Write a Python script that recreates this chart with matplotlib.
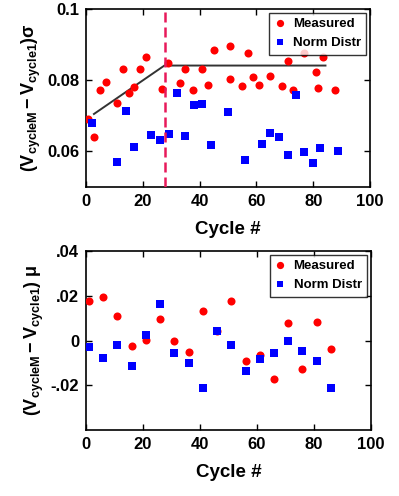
import matplotlib
matplotlib.use("Agg")
import matplotlib.pyplot as plt

plt.rcParams["font.family"] = ["Liberation Sans", "DejaVu Sans"]
plt.rcParams["font.weight"] = "bold"
plt.rcParams["mathtext.fontset"] = "custom"
plt.rcParams["mathtext.rm"] = "Liberation Sans:bold"
plt.rcParams["mathtext.it"] = "Liberation Sans:bold"
plt.rcParams["mathtext.bf"] = "Liberation Sans:bold"

# top panel: sigma
sig_meas_x = [0.6, 2.9, 4.9, 7.0, 10.8, 12.9, 15.0, 17.0, 19.0, 21.0, 26.9, 29.0, 33.0, 35.0,
              37.7, 40.8, 43.1, 45.0, 50.7, 50.8, 54.8, 56.9, 58.9, 60.9, 64.9, 68.9, 71.2,
              73.0, 76.8, 80.9, 81.6, 83.5, 87.7]
sig_meas_y = [0.0691, 0.0640, 0.0773, 0.0795, 0.0735, 0.0832, 0.0764, 0.0780, 0.0830, 0.0865,
              0.0776, 0.0849, 0.0792, 0.0832, 0.0772, 0.0830, 0.0785, 0.0885, 0.0802, 0.0897,
              0.0783, 0.0876, 0.0809, 0.0785, 0.0813, 0.0783, 0.0854, 0.0773, 0.0875, 0.0824,
              0.0779, 0.0866, 0.0773]
sig_norm_x = [2.0, 10.8, 14.0, 17.0, 22.9, 26.1, 29.1, 31.9, 35.0, 38.1, 40.8, 43.9, 50.0,
              56.0, 62.0, 64.9, 68.0, 71.0, 73.9, 76.8, 79.9, 82.5, 88.8]
sig_norm_y = [0.0681, 0.0569, 0.0712, 0.0611, 0.0645, 0.0631, 0.0648, 0.0765, 0.0643, 0.0730,
              0.0732, 0.0617, 0.0711, 0.0575, 0.0622, 0.0652, 0.0641, 0.0591, 0.0759, 0.0599,
              0.0566, 0.0610, 0.0601]
fit_x = [2.8, 27.6, 84.3]
fit_y = [0.0705, 0.0841, 0.0841]
split_x = 27.8

# bottom panel: mu
mu_x = [1, 6, 11, 16, 21, 26, 31, 36, 41, 46, 51, 56, 61, 66, 71, 76, 81, 86]
mu_meas_y = [0.0178, 0.0196, 0.0110, -0.0024, 0.0003, 0.0095, 0.0000, -0.0053, 0.0132, 0.0043,
             0.0178, -0.0092, -0.0064, -0.0173, 0.0080, -0.0126, 0.0083, -0.0039]
mu_norm_y = [-0.0030, -0.0076, -0.0019, -0.0116, 0.0025, 0.0163, -0.0058, -0.0101, -0.0213,
             0.0041, -0.0019, -0.0135, -0.0081, -0.0058, -0.0001, -0.0046, -0.0093, -0.0213]

RED = "#ff0000"
BLUE = "#0000ff"

fig = plt.figure(figsize=(3.99, 4.96), dpi=100)
ax1 = fig.add_axes([0.2155, 0.623, 0.712, 0.359])
ax2 = fig.add_axes([0.2155, 0.133, 0.714, 0.361])


def style(ax):
    for s in ax.spines.values():
        s.set_linewidth(1.2)
    ax.tick_params(direction="in", top=True, right=True, length=4, width=1,
                   labelsize=12, pad=5)
    ax.set_xlim(0, 100)
    ax.set_xticks([0, 20, 40, 60, 80, 100])
    ax.set_xlabel("Cycle #", fontsize=13.5, fontweight="bold", labelpad=9)


def boxed_legend(ax):
    leg = ax.legend(loc="upper right", fontsize=9.5, frameon=True, fancybox=False,
                    handlelength=0.8, handletextpad=0.6, borderpad=0.4, labelspacing=0.5,
                    borderaxespad=0.3, markerscale=0.9)
    leg.get_frame().set_edgecolor("black")
    leg.get_frame().set_linewidth(1.0)
    return leg


# top
ax1.plot(fit_x, fit_y, color="#333333", lw=1.4, zorder=2)
ax1.axvline(split_x, color="#e8195a", lw=1.8, dashes=(4, 2), zorder=4)
ax1.plot(sig_meas_x, sig_meas_y, "o", color=RED, ms=5.8, mew=0, label="Measured", zorder=3)
ax1.plot(sig_norm_x, sig_norm_y, "s", color=BLUE, ms=5.4, mew=0, label="Norm Distr", zorder=3)
ax1.set_ylim(0.05, 0.1)
ax1.set_yticks([0.06, 0.08, 0.1])
ax1.set_yticklabels(["0.06", "0.08", "0.1"])
style(ax1)
ax1.set_ylabel(r"$(\mathrm{V}_{\mathrm{cycleM}} - \mathrm{V}_{\mathrm{cycle1}})$σ",
               fontsize=13, fontweight="bold", labelpad=3)
boxed_legend(ax1)

# bottom
ax2.plot(mu_x, mu_meas_y, "o", color=RED, ms=5.8, mew=0, label="Measured", zorder=3)
ax2.plot(mu_x, mu_norm_y, "s", color=BLUE, ms=5.4, mew=0, label="Norm Distr", zorder=3)
ax2.set_ylim(-0.04, 0.04)
ax2.set_yticks([-0.02, 0, 0.02, 0.04])
ax2.set_yticklabels(["-.02", "0", ".02", ".04"])
style(ax2)
ax2.set_ylabel(r"$(\mathrm{V}_{\mathrm{cycleM}} - \mathrm{V}_{\mathrm{cycle1}})$ μ",
               fontsize=13, fontweight="bold", labelpad=3)
boxed_legend(ax2)

fig.savefig("out.png", dpi=100)
